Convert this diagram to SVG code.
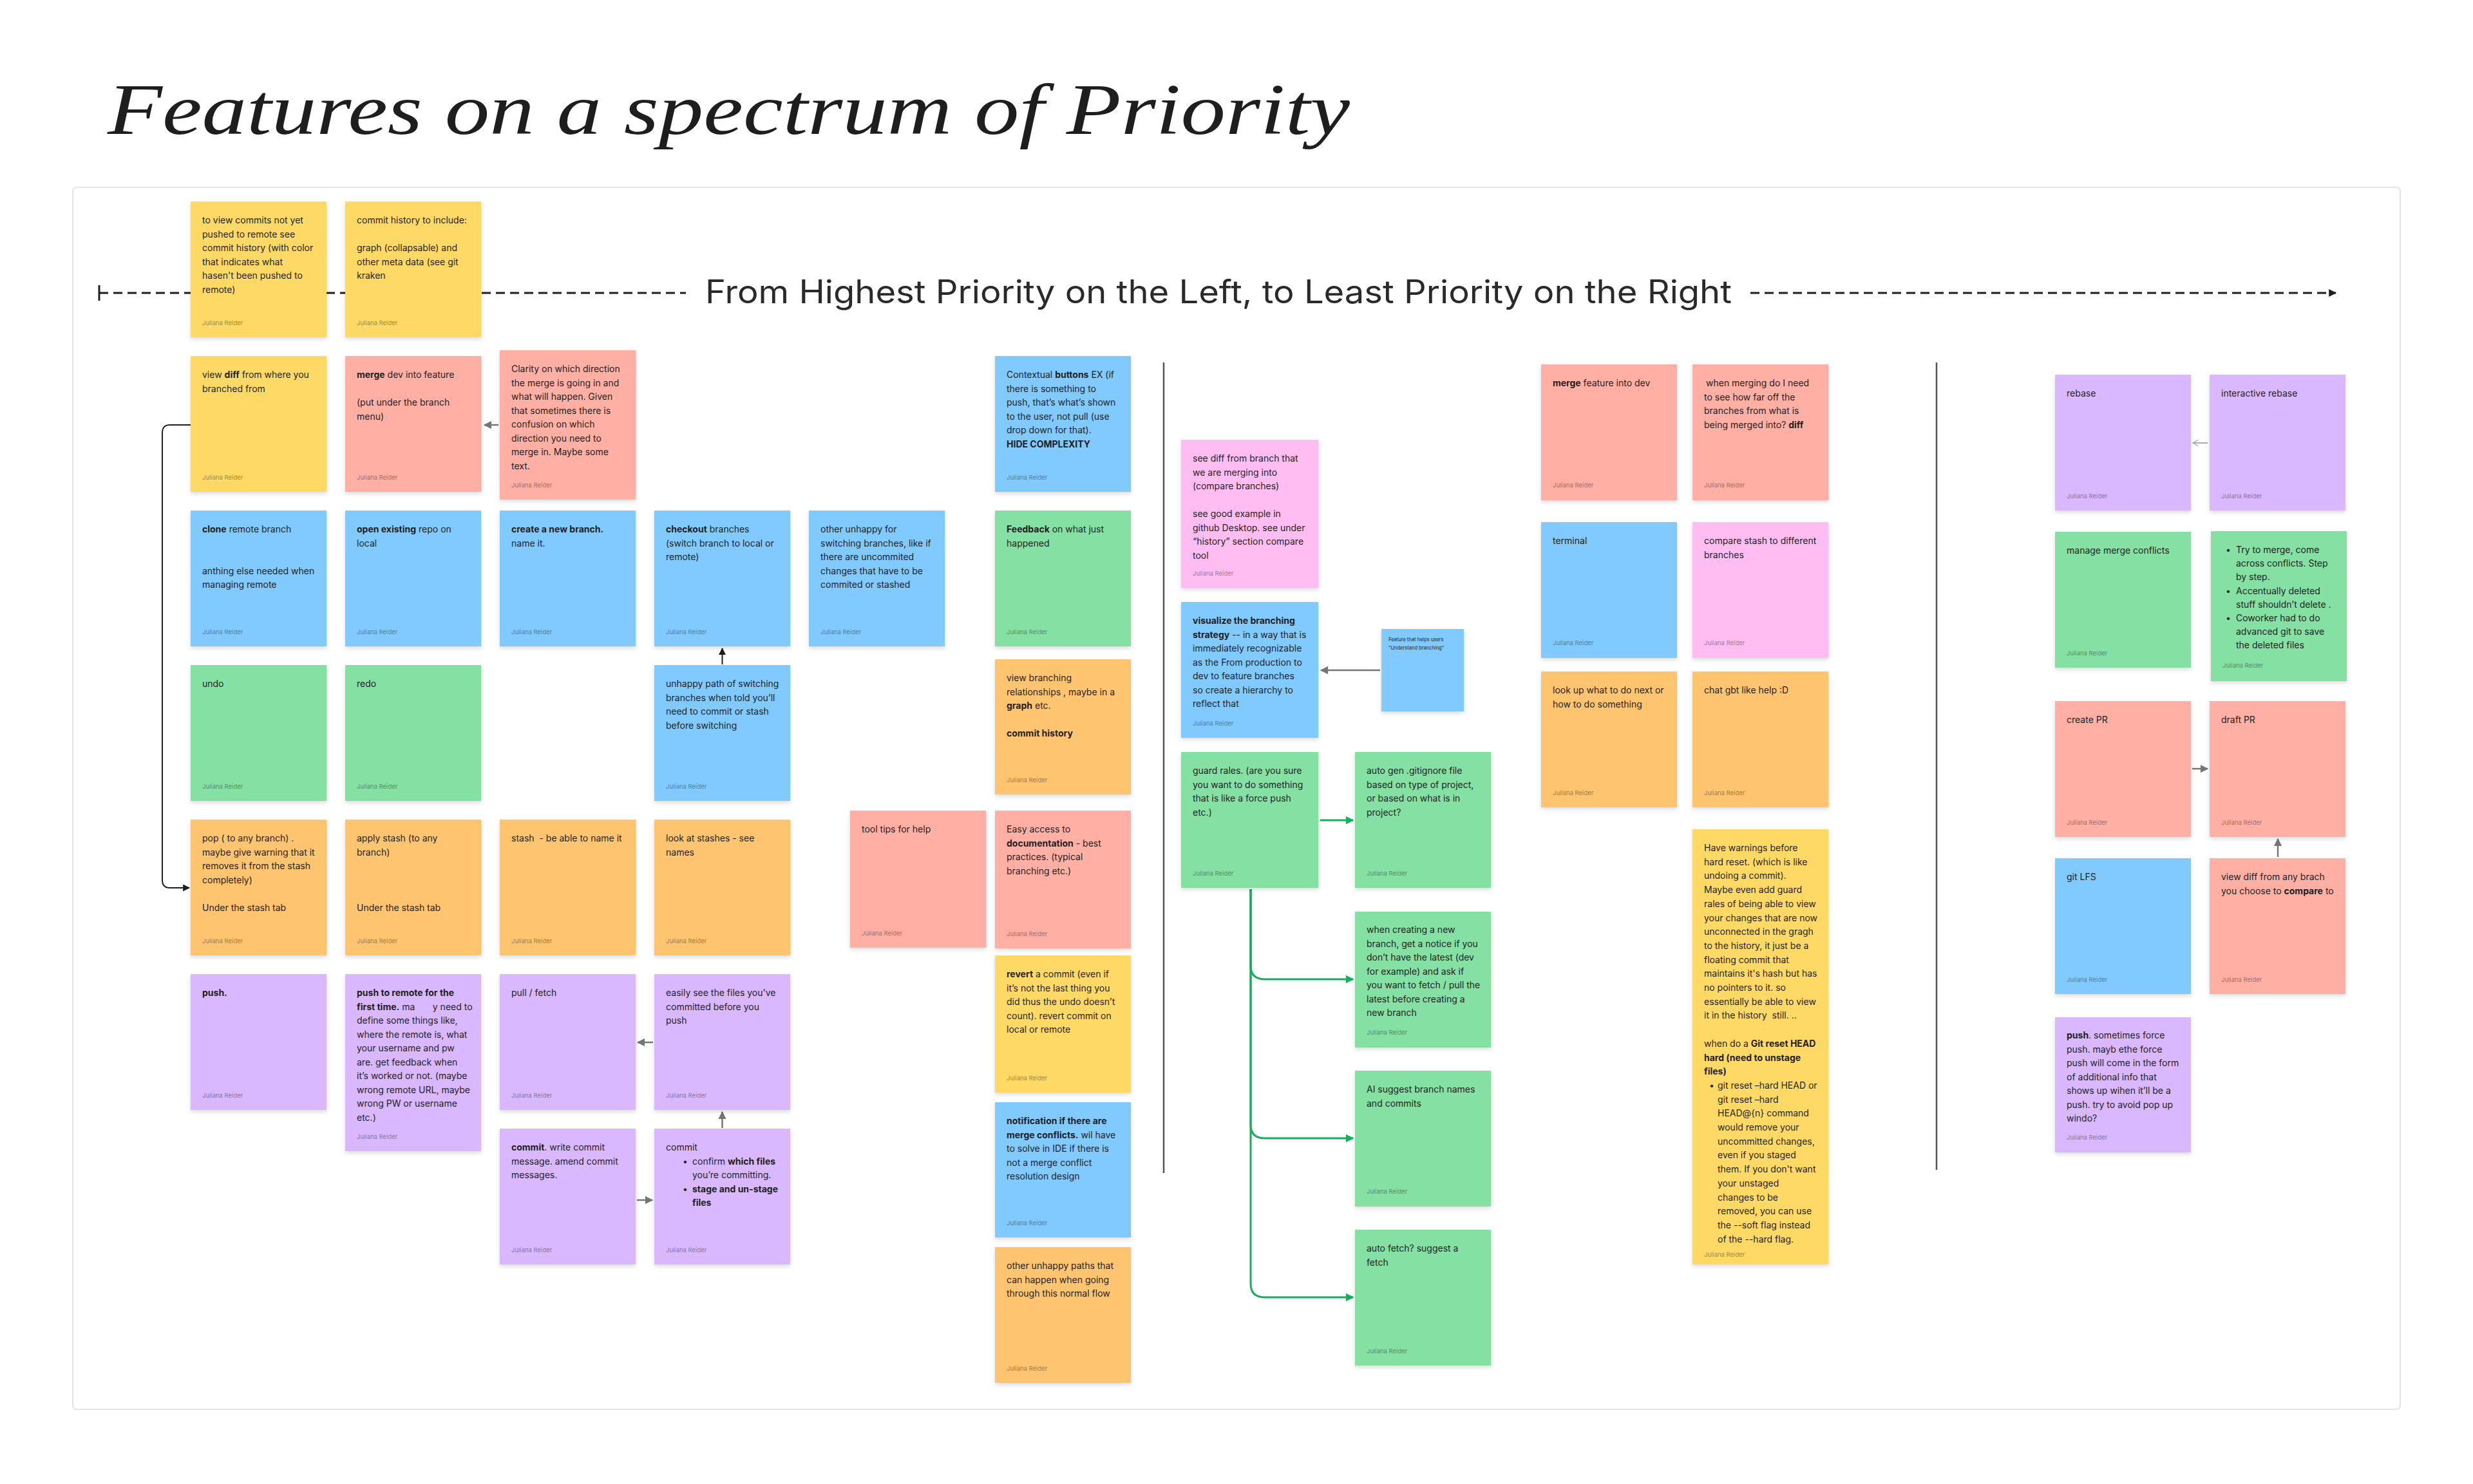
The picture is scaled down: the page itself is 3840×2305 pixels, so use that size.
<svg xmlns="http://www.w3.org/2000/svg" width="3840" height="2305" viewBox="0 0 3840 2305">
<defs>
<style>
.t{font-family:Inter,"Noto Sans","Liberation Sans",sans-serif;font-size:14px;fill:#1e1e1e}
.b{font-weight:700}
.a{font-family:Inter,"Noto Sans","Liberation Sans",sans-serif;font-size:9.5px;fill:#000;fill-opacity:.42}
.y{fill:#FFD966}.r{fill:#FFAFA3}.u{fill:#80CAFF}.g{fill:#85E0A3}.o{fill:#FFC470}.v{fill:#D9B8FF}.k{fill:#FFBDF2}
.nt{filter:url(#sh)}
.lg{fill:none;stroke:#757575;stroke-width:2.5}
.lk{fill:none;stroke:#1e1e1e;stroke-width:2}
.lgr{fill:none;stroke:#14AE5C;stroke-width:3}
.sep{stroke:#555;stroke-width:2.5}
</style>
<filter id="sh" x="-10%" y="-10%" width="120%" height="130%"><feDropShadow dx="0" dy="3" stdDeviation="3" flood-color="#000" flood-opacity=".14"/></filter>
<marker id="mg" viewBox="0 0 10 10" refX="9" refY="5" markerWidth="5" markerHeight="5" orient="auto"><path d="M0,0L10,5L0,10z" fill="#757575"/></marker>
<marker id="mk" viewBox="0 0 10 10" refX="9" refY="5" markerWidth="5.5" markerHeight="5.5" orient="auto"><path d="M0,0L10,5L0,10z" fill="#1e1e1e"/></marker>
<marker id="mgr" viewBox="0 0 10 10" refX="9" refY="5" markerWidth="4.2" markerHeight="4.2" orient="auto"><path d="M0,0L10,5L0,10z" fill="#14AE5C"/></marker>
<marker id="mo" viewBox="0 0 10 10" refX="9" refY="5" markerWidth="5" markerHeight="5" orient="auto"><path d="M1,0.5L9,5L1,9.5" fill="none" stroke="#ababab" stroke-width="1.4"/></marker>
<marker id="mh" viewBox="0 0 10 10" refX="9" refY="5" markerWidth="4" markerHeight="4" orient="auto"><path d="M0,0L10,5L0,10z" fill="#1e1e1e"/></marker>
</defs>
<rect width="3840" height="2305" fill="#ffffff"/>
<text x="167" y="208" font-family="Liberation Serif, serif" font-style="italic" font-size="112" fill="#1e1e1e" textLength="1929" lengthAdjust="spacingAndGlyphs">Features on a spectrum of Priority</text>
<rect x="113" y="291" width="3614" height="1898" rx="6" fill="#fff" stroke="#e4e4e4" stroke-width="2"/>

<g id="header">
<line x1="154" y1="443" x2="154" y2="467" stroke="#1e1e1e" stroke-width="3"/>
<line x1="154" y1="455" x2="1065" y2="455" stroke="#1e1e1e" stroke-width="3" stroke-dasharray="14 8"/>
<line x1="2718" y1="455" x2="3627" y2="455" stroke="#1e1e1e" stroke-width="3" stroke-dasharray="14 8" marker-end="url(#mh)"/>
<text x="1892" y="471" text-anchor="middle" font-family="Inter,'Noto Sans','Liberation Sans',sans-serif" font-size="50" fill="#2a2a2a" textLength="1594" lengthAdjust="spacingAndGlyphs">From Highest Priority on the Left, to Least Priority on the Right</text>
</g>
<line class="sep" x1="1807" y1="563" x2="1807" y2="1822"/>
<line class="sep" x1="3007" y1="563" x2="3007" y2="1817"/>

<g id="connectors">
<line class="lg" x1="774" y1="660" x2="752" y2="660" marker-end="url(#mg)"/>
<path class="lk" d="M296,660 H264 Q252,660 252,672 V1367 Q252,1379 264,1379 H294" marker-end="url(#mk)"/>
<line class="lk" x1="1121.5" y1="1032" x2="1121.5" y2="1007" marker-end="url(#mk)"/>
<line class="lg" x1="1014" y1="1619" x2="990" y2="1619" marker-end="url(#mg)"/>
<line class="lg" x1="1121.5" y1="1752" x2="1121.5" y2="1727" marker-end="url(#mg)"/>
<line class="lg" x1="989" y1="1864" x2="1013" y2="1864" marker-end="url(#mg)"/>
<line class="lg" x1="2143" y1="1041" x2="2051" y2="1041" marker-end="url(#mg)"/>
<line class="lgr" x1="2050" y1="1274" x2="2101" y2="1274" marker-end="url(#mgr)"/>
<path class="lgr" d="M1942,1381 V1500 Q1942,1521 1964,1521 H2101" marker-end="url(#mgr)"/>
<path class="lgr" d="M1942,1381 V1747 Q1942,1768 1964,1768 H2101" marker-end="url(#mgr)"/>
<path class="lgr" d="M1942,1381 V1994 Q1942,2015 1964,2015 H2101" marker-end="url(#mgr)"/>
<line x1="3428" y1="688" x2="3405" y2="688" stroke="#ababab" stroke-width="2" marker-end="url(#mo)"/>
<line class="lg" x1="3404" y1="1194" x2="3428" y2="1194" marker-end="url(#mg)"/>
<line class="lg" x1="3537" y1="1331" x2="3537" y2="1303" marker-end="url(#mg)"/>
</g>

<g id="n-view-commits"><rect class="nt y" x="296" y="313" width="211" height="211"/>
<text class="t"><tspan x="314" y="347">to view commits not yet</tspan><tspan x="314" y="368.5">pushed to remote see</tspan><tspan x="314" y="390">commit history (with color</tspan><tspan x="314" y="411.5">that indicates what</tspan><tspan x="314" y="433">hasen't been pushed to</tspan><tspan x="314" y="454.5">remote)</tspan></text>
<text class="a" x="314" y="505">Juliana Reider</text></g>

<g id="n-commit-history"><rect class="nt y" x="536" y="313" width="211" height="211"/>
<text class="t"><tspan x="554" y="347">commit history to include:</tspan><tspan x="554" y="390">graph (collapsable) and</tspan><tspan x="554" y="411.5">other meta data (see git</tspan><tspan x="554" y="433">kraken</tspan></text>
<text class="a" x="554" y="505">Juliana Reider</text></g>

<g id="n-view-diff"><rect class="nt y" x="296" y="553" width="211" height="211"/>
<text class="t"><tspan x="314" y="587">view <tspan class="b">diff</tspan> from where you</tspan><tspan x="314" y="608.5">branched from</tspan></text>
<text class="a" x="314" y="745">Juliana Reider</text></g>

<g id="n-merge-dev"><rect class="nt r" x="536" y="553" width="211" height="211"/>
<text class="t"><tspan x="554" y="587"><tspan class="b">merge</tspan> dev into feature</tspan><tspan x="554" y="630">(put under the branch</tspan><tspan x="554" y="651.5">menu)</tspan></text>
<text class="a" x="554" y="745">Juliana Reider</text></g>

<g id="n-clarity"><rect class="nt r" x="776" y="544" width="211" height="232"/>
<text class="t"><tspan x="794" y="578">Clarity on which direction</tspan><tspan x="794" y="599.5">the merge is going in and</tspan><tspan x="794" y="621">what will happen. Given</tspan><tspan x="794" y="642.5">that sometimes there is</tspan><tspan x="794" y="664">confusion on which</tspan><tspan x="794" y="685.5">direction you need to</tspan><tspan x="794" y="707">merge in. Maybe some</tspan><tspan x="794" y="728.5">text.</tspan></text>
<text class="a" x="794" y="757">Juliana Reider</text></g>

<g id="n-clone"><rect class="nt u" x="296" y="793" width="211" height="211"/>
<text class="t"><tspan x="314" y="827"><tspan class="b">clone</tspan> remote branch</tspan><tspan x="314" y="891.5">anthing else needed when</tspan><tspan x="314" y="913">managing remote</tspan></text>
<text class="a" x="314" y="985">Juliana Reider</text></g>

<g id="n-open-existing"><rect class="nt u" x="536" y="793" width="211" height="211"/>
<text class="t"><tspan x="554" y="827"><tspan class="b">open existing</tspan> repo on</tspan><tspan x="554" y="848.5">local</tspan></text>
<text class="a" x="554" y="985">Juliana Reider</text></g>

<g id="n-create-branch"><rect class="nt u" x="776" y="793" width="211" height="211"/>
<text class="t"><tspan x="794" y="827" class="b">create a new branch.</tspan><tspan x="794" y="848.5">name it.</tspan></text>
<text class="a" x="794" y="985">Juliana Reider</text></g>

<g id="n-checkout"><rect class="nt u" x="1016" y="793" width="211" height="211"/>
<text class="t"><tspan x="1034" y="827"><tspan class="b">checkout</tspan> branches</tspan><tspan x="1034" y="848.5">(switch branch to local or</tspan><tspan x="1034" y="870">remote)</tspan></text>
<text class="a" x="1034" y="985">Juliana Reider</text></g>

<g id="n-other-unhappy"><rect class="nt u" x="1256" y="793" width="211" height="211"/>
<text class="t"><tspan x="1274" y="827">other unhappy for</tspan><tspan x="1274" y="848.5">switching branches, like if</tspan><tspan x="1274" y="870">there are uncommited</tspan><tspan x="1274" y="891.5">changes that have to be</tspan><tspan x="1274" y="913">commited or stashed</tspan></text>
<text class="a" x="1274" y="985">Juliana Reider</text></g>

<g id="n-undo"><rect class="nt g" x="296" y="1033" width="211" height="211"/>
<text class="t" x="314" y="1067">undo</text>
<text class="a" x="314" y="1225">Juliana Reider</text></g>

<g id="n-redo"><rect class="nt g" x="536" y="1033" width="211" height="211"/>
<text class="t" x="554" y="1067">redo</text>
<text class="a" x="554" y="1225">Juliana Reider</text></g>

<g id="n-unhappy-path"><rect class="nt u" x="1016" y="1033" width="211" height="211"/>
<text class="t"><tspan x="1034" y="1067">unhappy path of switching</tspan><tspan x="1034" y="1088.5">branches when told you’ll</tspan><tspan x="1034" y="1110">need to commit or stash</tspan><tspan x="1034" y="1131.5">before switching</tspan></text>
<text class="a" x="1034" y="1225">Juliana Reider</text></g>

<g id="n-pop"><rect class="nt o" x="296" y="1273" width="211" height="211"/>
<text class="t"><tspan x="314" y="1307">pop ( to any branch) .</tspan><tspan x="314" y="1328.5">maybe give warning that it</tspan><tspan x="314" y="1350">removes it from the stash</tspan><tspan x="314" y="1371.5">completely)</tspan><tspan x="314" y="1414.5">Under the stash tab</tspan></text>
<text class="a" x="314" y="1465">Juliana Reider</text></g>

<g id="n-apply-stash"><rect class="nt o" x="536" y="1273" width="211" height="211"/>
<text class="t"><tspan x="554" y="1307">apply stash (to any</tspan><tspan x="554" y="1328.5">branch)</tspan><tspan x="554" y="1414.5">Under the stash tab</tspan></text>
<text class="a" x="554" y="1465">Juliana Reider</text></g>

<g id="n-stash"><rect class="nt o" x="776" y="1273" width="211" height="211"/>
<text class="t" x="794" y="1307" style="white-space:pre">stash  - be able to name it</text>
<text class="a" x="794" y="1465">Juliana Reider</text></g>

<g id="n-look-stashes"><rect class="nt o" x="1016" y="1273" width="211" height="211"/>
<text class="t"><tspan x="1034" y="1307">look at stashes - see</tspan><tspan x="1034" y="1328.5">names</tspan></text>
<text class="a" x="1034" y="1465">Juliana Reider</text></g>

<g id="n-tooltips"><rect class="nt r" x="1320" y="1259" width="211" height="213"/>
<text class="t" x="1338" y="1293">tool tips for help</text>
<text class="a" x="1338" y="1453">Juliana Reider</text></g>

<g id="n-push"><rect class="nt v" x="296" y="1513" width="211" height="211"/>
<text class="t b" x="314" y="1547">push.</text>
<text class="a" x="314" y="1705">Juliana Reider</text></g>

<g id="n-push-remote"><rect class="nt v" x="536" y="1513" width="211" height="275"/>
<text class="t" style="white-space:pre"><tspan x="554" y="1547" class="b">push to remote for the</tspan><tspan x="554" y="1568.5"><tspan class="b">first time.</tspan> ma       y need to</tspan><tspan x="554" y="1590">define some things like,</tspan><tspan x="554" y="1611.5">where the remote is, what</tspan><tspan x="554" y="1633">your username and pw</tspan><tspan x="554" y="1654.5">are. get feedback when</tspan><tspan x="554" y="1676">it’s worked or not. (maybe</tspan><tspan x="554" y="1697.5">wrong remote URL, maybe</tspan><tspan x="554" y="1719">wrong PW or username</tspan><tspan x="554" y="1740.5">etc.)</tspan></text>
<text class="a" x="554" y="1769">Juliana Reider</text></g>

<g id="n-pull-fetch"><rect class="nt v" x="776" y="1513" width="211" height="211"/>
<text class="t" x="794" y="1547">pull / fetch</text>
<text class="a" x="794" y="1705">Juliana Reider</text></g>

<g id="n-easily-see"><rect class="nt v" x="1016" y="1513" width="211" height="211"/>
<text class="t"><tspan x="1034" y="1547">easily see the files you've</tspan><tspan x="1034" y="1568.5">committed before you</tspan><tspan x="1034" y="1590">push</tspan></text>
<text class="a" x="1034" y="1705">Juliana Reider</text></g>

<g id="n-commit-write"><rect class="nt v" x="776" y="1753" width="211" height="211"/>
<text class="t"><tspan x="794" y="1787"><tspan class="b">commit</tspan>. write commit</tspan><tspan x="794" y="1808.5">message. amend commit</tspan><tspan x="794" y="1830">messages.</tspan></text>
<text class="a" x="794" y="1945">Juliana Reider</text></g>

<g id="n-commit"><rect class="nt v" x="1016" y="1753" width="211" height="211"/>
<text class="t"><tspan x="1034" y="1787">commit</tspan><tspan x="1060" y="1808.5">•</tspan><tspan x="1075" y="1808.5">confirm <tspan class="b">which files</tspan></tspan><tspan x="1075" y="1830">you’re committing.</tspan><tspan x="1060" y="1851.5">•</tspan><tspan x="1075" y="1851.5" class="b">stage and un-stage</tspan><tspan x="1075" y="1873" class="b">files</tspan></text>
<text class="a" x="1034" y="1945">Juliana Reider</text></g>

<g id="n-contextual"><rect class="nt u" x="1545" y="553" width="211" height="211"/>
<text class="t"><tspan x="1563" y="587">Contextual <tspan class="b">buttons</tspan> EX (if</tspan><tspan x="1563" y="608.5">there is something to</tspan><tspan x="1563" y="630">push, that’s what’s shown</tspan><tspan x="1563" y="651.5">to the user, not pull (use</tspan><tspan x="1563" y="673">drop down for that).</tspan><tspan x="1563" y="694.5" class="b">HIDE COMPLEXITY</tspan></text>
<text class="a" x="1563" y="745">Juliana Reider</text></g>

<g id="n-feedback"><rect class="nt g" x="1545" y="793" width="211" height="211"/>
<text class="t"><tspan x="1563" y="827"><tspan class="b">Feedback</tspan> on what just</tspan><tspan x="1563" y="848.5">happened</tspan></text>
<text class="a" x="1563" y="985">Juliana Reider</text></g>

<g id="n-view-branching"><rect class="nt o" x="1545" y="1024" width="211" height="210"/>
<text class="t"><tspan x="1563" y="1058">view branching</tspan><tspan x="1563" y="1079.5">relationships , maybe in a</tspan><tspan x="1563" y="1101"><tspan class="b">graph</tspan> etc.</tspan><tspan x="1563" y="1144" class="b">commit history</tspan></text>
<text class="a" x="1563" y="1215">Juliana Reider</text></g>

<g id="n-easy-access"><rect class="nt r" x="1545" y="1259" width="211" height="214"/>
<text class="t"><tspan x="1563" y="1293">Easy access to</tspan><tspan x="1563" y="1314.5"><tspan class="b">documentation</tspan> - best</tspan><tspan x="1563" y="1336">practices. (typical</tspan><tspan x="1563" y="1357.5">branching etc.)</tspan></text>
<text class="a" x="1563" y="1454">Juliana Reider</text></g>

<g id="n-revert"><rect class="nt y" x="1545" y="1484" width="211" height="213"/>
<text class="t"><tspan x="1563" y="1518"><tspan class="b">revert</tspan> a commit (even if</tspan><tspan x="1563" y="1539.5">it’s not the last thing you</tspan><tspan x="1563" y="1561">did thus the undo doesn’t</tspan><tspan x="1563" y="1582.5">count). revert commit on</tspan><tspan x="1563" y="1604">local or remote</tspan></text>
<text class="a" x="1563" y="1678">Juliana Reider</text></g>

<g id="n-notification"><rect class="nt u" x="1545" y="1712" width="211" height="210"/>
<text class="t"><tspan x="1563" y="1746" class="b">notification if there are</tspan><tspan x="1563" y="1767.5"><tspan class="b">merge conflicts.</tspan> wil have</tspan><tspan x="1563" y="1789">to solve in IDE if there is</tspan><tspan x="1563" y="1810.5">not a merge conflict</tspan><tspan x="1563" y="1832">resolution design</tspan></text>
<text class="a" x="1563" y="1903">Juliana Reider</text></g>

<g id="n-other-paths"><rect class="nt o" x="1545" y="1937" width="211" height="211"/>
<text class="t"><tspan x="1563" y="1971">other unhappy paths that</tspan><tspan x="1563" y="1992.5">can happen when going</tspan><tspan x="1563" y="2014">through this normal flow</tspan></text>
<text class="a" x="1563" y="2129">Juliana Reider</text></g>

<g id="n-see-diff"><rect class="nt k" x="1834" y="683" width="213" height="230"/>
<text class="t"><tspan x="1852" y="717">see diff from branch that</tspan><tspan x="1852" y="738.5">we are merging into</tspan><tspan x="1852" y="760">(compare branches)</tspan><tspan x="1852" y="803">see good example in</tspan><tspan x="1852" y="824.5">github Desktop. see under</tspan><tspan x="1852" y="846">“history” section compare</tspan><tspan x="1852" y="867.5">tool</tspan></text>
<text class="a" x="1852" y="894">Juliana Reider</text></g>

<g id="n-visualize"><rect class="nt u" x="1834" y="935" width="213" height="211"/>
<text class="t"><tspan x="1852" y="969" class="b">visualize the branching</tspan><tspan x="1852" y="990.5"><tspan class="b">strategy</tspan> -- in a way that is</tspan><tspan x="1852" y="1012">immediately recognizable</tspan><tspan x="1852" y="1033.5">as the From production to</tspan><tspan x="1852" y="1055">dev to feature branches</tspan><tspan x="1852" y="1076.5">so create a hierarchy to</tspan><tspan x="1852" y="1098">reflect that</tspan></text>
<text class="a" x="1852" y="1127">Juliana Reider</text></g>

<g id="n-understand-branching"><rect class="nt u" x="2145" y="977" width="128" height="128"/>
<text class="t" style="font-size:7.5px"><tspan x="2156" y="996">Feature that helps users</tspan><tspan x="2156" y="1008.5">"Understand branching"</tspan></text></g>

<g id="n-guard"><rect class="nt g" x="1834" y="1168" width="213" height="211"/>
<text class="t"><tspan x="1852" y="1202">guard rales. (are you sure</tspan><tspan x="1852" y="1223.5">you want to do something</tspan><tspan x="1852" y="1245">that is like a force push</tspan><tspan x="1852" y="1266.5">etc.)</tspan></text>
<text class="a" x="1852" y="1360">Juliana Reider</text></g>

<g id="n-auto-gen"><rect class="nt g" x="2104" y="1168" width="211" height="211"/>
<text class="t"><tspan x="2122" y="1202">auto gen .gitignore file</tspan><tspan x="2122" y="1223.5">based on type of project,</tspan><tspan x="2122" y="1245">or based on what is in</tspan><tspan x="2122" y="1266.5">project?</tspan></text>
<text class="a" x="2122" y="1360">Juliana Reider</text></g>

<g id="n-when-creating"><rect class="nt g" x="2104" y="1416" width="211" height="211"/>
<text class="t"><tspan x="2122" y="1449">when creating a new</tspan><tspan x="2122" y="1470.5">branch, get a notice if you</tspan><tspan x="2122" y="1492">don’t have the latest (dev</tspan><tspan x="2122" y="1513.5">for example) and ask if</tspan><tspan x="2122" y="1535">you want to fetch / pull the</tspan><tspan x="2122" y="1556.5">latest before creating a</tspan><tspan x="2122" y="1578">new branch</tspan></text>
<text class="a" x="2122" y="1607">Juliana Reider</text></g>

<g id="n-ai-suggest"><rect class="nt g" x="2104" y="1663" width="211" height="211"/>
<text class="t"><tspan x="2122" y="1697">AI suggest branch names</tspan><tspan x="2122" y="1718.5">and commits</tspan></text>
<text class="a" x="2122" y="1854">Juliana Reider</text></g>

<g id="n-auto-fetch"><rect class="nt g" x="2104" y="1910" width="211" height="211"/>
<text class="t"><tspan x="2122" y="1944">auto fetch? suggest a</tspan><tspan x="2122" y="1965.5">fetch</tspan></text>
<text class="a" x="2122" y="2102">Juliana Reider</text></g>

<g id="n-merge-feature"><rect class="nt r" x="2393" y="566" width="211" height="211"/>
<text class="t" x="2411" y="600"><tspan class="b">merge</tspan> feature into dev</text>
<text class="a" x="2411" y="757">Juliana Reider</text></g>

<g id="n-when-merging"><rect class="nt r" x="2628" y="566" width="211" height="211"/>
<text class="t"><tspan x="2649" y="600">when merging do I need</tspan><tspan x="2646" y="621.5">to see how far off the</tspan><tspan x="2646" y="643">branches from what is</tspan><tspan x="2646" y="664.5">being merged into? <tspan class="b">diff</tspan></tspan></text>
<text class="a" x="2646" y="757">Juliana Reider</text></g>

<g id="n-terminal"><rect class="nt u" x="2393" y="811" width="211" height="211"/>
<text class="t" x="2411" y="845">terminal</text>
<text class="a" x="2411" y="1002">Juliana Reider</text></g>

<g id="n-compare-stash"><rect class="nt k" x="2628" y="811" width="211" height="211"/>
<text class="t"><tspan x="2646" y="845">compare stash to different</tspan><tspan x="2646" y="866.5">branches</tspan></text>
<text class="a" x="2646" y="1002">Juliana Reider</text></g>

<g id="n-look-up"><rect class="nt o" x="2393" y="1043" width="211" height="211"/>
<text class="t"><tspan x="2411" y="1077">look up what to do next or</tspan><tspan x="2411" y="1098.5">how to do something</tspan></text>
<text class="a" x="2411" y="1235">Juliana Reider</text></g>

<g id="n-chat"><rect class="nt o" x="2628" y="1043" width="211" height="211"/>
<text class="t" x="2646" y="1077">chat gbt like help :D</text>
<text class="a" x="2646" y="1235">Juliana Reider</text></g>

<g id="n-warnings"><rect class="nt y" x="2628" y="1288" width="211" height="676"/>
<text class="t" style="white-space:pre"><tspan x="2646" y="1322">Have warnings before</tspan><tspan x="2646" y="1343.7">hard reset. (which is like</tspan><tspan x="2646" y="1365.4">undoing a commit).</tspan><tspan x="2646" y="1387.1">Maybe even add guard</tspan><tspan x="2646" y="1408.8">rales of being able to view</tspan><tspan x="2646" y="1430.5">your changes that are now</tspan><tspan x="2646" y="1452.2">unconnected in the gragh</tspan><tspan x="2646" y="1473.9">to the history, it just be a</tspan><tspan x="2646" y="1495.6">floating commit that</tspan><tspan x="2646" y="1517.3">maintains it's hash but has</tspan><tspan x="2646" y="1539">no pointers to it. so</tspan><tspan x="2646" y="1560.7">essentially be able to view</tspan><tspan x="2646" y="1582.4">it in the history  still. ..</tspan><tspan x="2646" y="1625.8">when do a <tspan class="b">Git reset HEAD</tspan></tspan><tspan x="2646" y="1647.5" class="b">hard (need to unstage</tspan><tspan x="2646" y="1669.2" class="b">files)</tspan><tspan x="2654" y="1690.9">•</tspan><tspan x="2667" y="1690.9">git reset –hard HEAD or</tspan><tspan x="2667" y="1712.6">git reset –hard</tspan><tspan x="2667" y="1734.3">HEAD@{n} command</tspan><tspan x="2667" y="1756">would remove your</tspan><tspan x="2667" y="1777.7">uncommitted changes,</tspan><tspan x="2667" y="1799.4">even if you staged</tspan><tspan x="2667" y="1821.1">them. If you don't want</tspan><tspan x="2667" y="1842.8">your unstaged</tspan><tspan x="2667" y="1864.5">changes to be</tspan><tspan x="2667" y="1886.2">removed, you can use</tspan><tspan x="2667" y="1907.9">the --soft flag instead</tspan><tspan x="2667" y="1929.6">of the --hard flag.</tspan></text>
<text class="a" x="2646" y="1952">Juliana Reider</text></g>

<g id="n-rebase"><rect class="nt v" x="3191" y="582" width="211" height="211"/>
<text class="t" x="3209" y="616">rebase</text>
<text class="a" x="3209" y="774">Juliana Reider</text></g>

<g id="n-interactive-rebase"><rect class="nt v" x="3431" y="582" width="211" height="211"/>
<text class="t" x="3449" y="616">interactive rebase</text>
<text class="a" x="3449" y="774">Juliana Reider</text></g>

<g id="n-manage-merge"><rect class="nt g" x="3191" y="826" width="211" height="211"/>
<text class="t" x="3209" y="860">manage merge conflicts</text>
<text class="a" x="3209" y="1018">Juliana Reider</text></g>

<g id="n-try-merge"><rect class="nt g" x="3433" y="825" width="211" height="233"/>
<text class="t"><tspan x="3456" y="859">•</tspan><tspan x="3472" y="859">Try to merge, come</tspan><tspan x="3472" y="880.2">across conflicts. Step</tspan><tspan x="3472" y="901.4">by step.</tspan><tspan x="3456" y="922.6">•</tspan><tspan x="3472" y="922.6">Accentually deleted</tspan><tspan x="3472" y="943.8">stuff shouldn’t delete .</tspan><tspan x="3456" y="965">•</tspan><tspan x="3472" y="965">Coworker had to do</tspan><tspan x="3472" y="986.2">advanced git to save</tspan><tspan x="3472" y="1007.4">the deleted files</tspan></text>
<text class="a" x="3451" y="1037">Juliana Reider</text></g>

<g id="n-create-pr"><rect class="nt r" x="3191" y="1089" width="211" height="211"/>
<text class="t" x="3209" y="1123">create PR</text>
<text class="a" x="3209" y="1281">Juliana Reider</text></g>

<g id="n-draft-pr"><rect class="nt r" x="3431" y="1089" width="211" height="211"/>
<text class="t" x="3449" y="1123">draft PR</text>
<text class="a" x="3449" y="1281">Juliana Reider</text></g>

<g id="n-git-lfs"><rect class="nt u" x="3191" y="1333" width="211" height="211"/>
<text class="t" x="3209" y="1367">git LFS</text>
<text class="a" x="3209" y="1525">Juliana Reider</text></g>

<g id="n-view-diff-any"><rect class="nt r" x="3431" y="1333" width="211" height="211"/>
<text class="t"><tspan x="3449" y="1367">view diff from any brach</tspan><tspan x="3449" y="1388.5">you choose to <tspan class="b">compare</tspan> to</tspan></text>
<text class="a" x="3449" y="1525">Juliana Reider</text></g>

<g id="n-push-force"><rect class="nt v" x="3191" y="1580" width="211" height="210"/>
<text class="t"><tspan x="3209" y="1613"><tspan class="b">push</tspan>. sometimes force</tspan><tspan x="3209" y="1634.5">push. mayb ethe force</tspan><tspan x="3209" y="1656">push will come in the form</tspan><tspan x="3209" y="1677.5">of additional info that</tspan><tspan x="3209" y="1699">shows up wihen it’ll be a</tspan><tspan x="3209" y="1720.5">push. try to avoid pop up</tspan><tspan x="3209" y="1742">windo?</tspan></text>
<text class="a" x="3209" y="1770">Juliana Reider</text></g>
</svg>
